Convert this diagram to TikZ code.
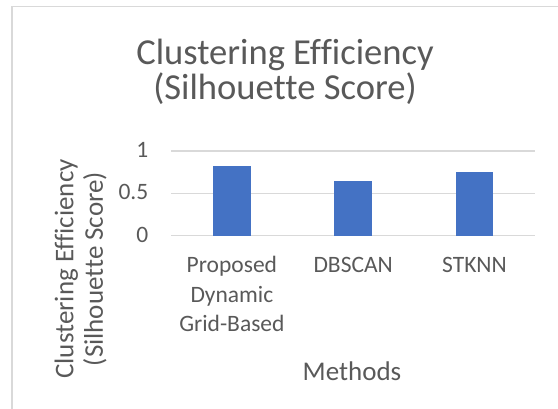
\documentclass[tikz,border=0pt]{standalone}
\usepackage{fontspec}
\setmainfont{Carlito}[Ligatures=NoCommon]
\definecolor{txtgray}{HTML}{595959}
\definecolor{gridgray}{HTML}{D9D9D9}
\definecolor{barblue}{HTML}{4472C4}
\begin{document}
\begin{tikzpicture}[x=1pt,y=-1pt,
  every node/.style={inner sep=0pt,outer sep=0pt,text=txtgray},
  charttitle/.style={font=\fontsize{36.6}{35.7}\selectfont,align=center,anchor=base},
  axistitle/.style={font=\fontsize{27}{29.5}\selectfont,align=center,anchor=base},
  ticklabel/.style={font=\fontsize{23.5}{29.5}\selectfont,anchor=east},
  catlabel/.style={font=\fontsize{23.5}{29.5}\selectfont,align=center,anchor=base},
  gridline/.style={draw=gridgray,line width=1.5pt},
  bar/.style={fill=barblue,draw=none}]
  \useasboundingbox (0,0) rectangle (558,409);
  \begin{scope}
    \clip (0,0) rectangle (558,409);
    % chart area frame, running off the lower right
    \draw[gridgray,line width=1.6pt] (11.7,6.5) rectangle (580,430);
  \end{scope}

  % title (anchor = baseline of the last line)
  \node[charttitle] (title) at (285,100) {Clustering Efficiency\\(Silhouette Score)};

  % value axis: y = 235.7 - 84.7*v
  \coordinate (g0l) at (171,235.7);   \coordinate (g0r) at (535,235.7);
  \coordinate (g5l) at (171,193.35);  \coordinate (g5r) at (535,193.35);
  \coordinate (g1l) at (171,151);     \coordinate (g1r) at (535,151);
  \draw[gridline] (g1l) -- (g1r);
  \draw[gridline] (g5l) -- (g5r);
  \draw[gridline] (g0l) -- (g0r);

  \node[ticklabel] (t1) at (148.3,150) {1};
  \node[ticklabel] (t5) at (148.3,192.35) {0.5};
  \node[ticklabel] (t0) at (148.3,234.7) {0};

  % bars (category width 121.3, bar width 37.5)
  \fill[bar] (213.15,235.7) rectangle (250.65,{235.7-84.7*0.82});
  \fill[bar] (334.45,235.7) rectangle (371.95,{235.7-84.7*0.65});
  \fill[bar] (455.75,235.7) rectangle (493.25,{235.7-84.7*0.75});

  % category labels
  \node[catlabel] (c1) at (231.9,331.7) {Proposed\\Dynamic\\Grid-Based};
  \node[catlabel] (c2) at (353.2,272.7) {DBSCAN};
  \node[catlabel] (c3) at (474.5,272.7) {STKNN};

  % axis titles
  \node[axistitle] (xtitle) at (352,380.7) {Methods};
  \node[axistitle,rotate=90] (ytitle) at (102.8,269) {Clustering Efficiency\\(Silhouette Score)};
\end{tikzpicture}
\end{document}
